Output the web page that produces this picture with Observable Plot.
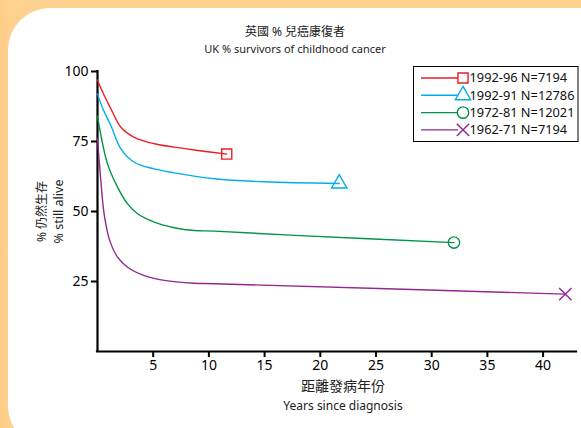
<!DOCTYPE html>
<html>
<head>
<meta charset="utf-8">
<script src="https://cdn.jsdelivr.net/npm/d3@7"></script>
<script src="https://cdn.jsdelivr.net/npm/@observablehq/plot@0.6"></script>
<style>
  html, body { margin: 0; padding: 0; }
  body { width: 581px; height: 428px; overflow: hidden; position: relative;
         background: linear-gradient(to right, #FFCB85 0px, #FFD18E 8px); font-family: "Noto Sans", "Noto Sans CJK TC", sans-serif; }
  #panel { position: absolute; left: 8px; top: 8px; width: 640px; height: 440px; background: #fff; border-radius: 42px; }
  #chart { position: absolute; left: 0; top: 0; }
</style>
</head>
<body>
<div id="panel"></div>
<div id="chart"></div>
<script>
// ---- data ----
const seriesNames = ["1992-96 N=7194", "1992-91 N=12786", "1972-81 N=12021", "1962-71 N=7194"];
const seriesColors = ["#ED1C24", "#00AEEF", "#00934A", "#92278F"];
const seriesSymbols = ["square", "triangle", "circle", "times"];

const years1 = [0, 0.5, 1.2, 2.1, 3.3, 5.1, 6.9, 9, 11.6];
const vals1  = [97, 92.3, 86.7, 80.1, 76.5, 74.2, 73, 71.8, 70.5];

const years2 = [0, 0.5, 1.2, 2.1, 3.3, 5.1, 6.9, 10.5, 15, 21.7];
const vals2  = [92, 86.5, 80.7, 72.4, 67.6, 65.2, 63.8, 61.7, 60.6, 60];

const years3 = [0, 0.9, 1.8, 2.7, 3.6, 5.1, 6.9, 8.7, 10.5, 18.2, 32];
const vals3  = [84, 67, 58.7, 52.7, 49.2, 46.2, 44.2, 43.2, 43, 41.4, 38.9];

const years4 = [0, 0.3, 0.6, 1.1, 1.8, 2.7, 4.2, 6, 8.7, 10.5, 42];
const vals4  = [76, 61, 49, 39.6, 33.7, 30.1, 27.1, 25.4, 24.4, 24.2, 20.5];

const xTicks = [5, 10, 15, 20, 25, 30, 35, 40];
const yTicks = [25, 50, 75, 100];

const titleZh = "英國 % 兒癌康復者";
const titleEn = "UK % survivors of childhood cancer";
const xLabelZh = "距離發病年份";
const xLabelEn = "Years since diagnosis";
const yLabelZh = "% 仍然生存";
const yLabelEn = "% still alive";

// ---- build table ----
const allYears = [years1, years2, years3, years4];
const allVals = [vals1, vals2, vals3, vals4];
const data = [];
const ends = [];
allYears.forEach((ys, i) => {
  ys.forEach((yr, j) => data.push({series: seriesNames[i], year: yr, value: allVals[i][j]}));
  ends.push({series: seriesNames[i], year: ys[ys.length - 1], value: allVals[i][ys.length - 1]});
});

const font = "'Noto Sans', 'Noto Sans CJK TC', sans-serif";

const chart = Plot.plot({
  width: 581,
  height: 428,
  marginLeft: 97,
  marginRight: 5,
  marginTop: 71,
  marginBottom: 77,
  style: {background: "transparent", fontFamily: font, fontSize: "14px", color: "#000"},
  x: {domain: [0, 43]},
  y: {domain: [0, 100]},
  color: {domain: seriesNames, range: seriesColors},
  symbol: {domain: seriesNames, range: seriesSymbols},
  marks: [
    Plot.axisX({ticks: xTicks, tickSize: 6, tickPadding: 3, strokeWidth: 2, label: null, fontSize: 14}),
    Plot.axisY({ticks: yTicks, tickSize: 6, tickPadding: 3, strokeWidth: 2, label: null, fontSize: 14}),
    Plot.ruleX([0], {strokeWidth: 2.2, strokeLinecap: "square"}),
    Plot.ruleY([0], {strokeWidth: 2.2, strokeLinecap: "square"}),
    Plot.line(data, {x: "year", y: "value", z: "series", stroke: "series", strokeWidth: 1.4, curve: "catmull-rom"}),
    Plot.dot(ends, {x: "year", y: "value", stroke: "series", symbol: "series", r: 5.7, strokeWidth: 1.4, fill: "none"}),
    Plot.text([titleZh], {text: d => d, frameAnchor: "top", dx: -42, dy: -44, fontSize: 12, fill: "#222"}),
    Plot.text([titleEn], {text: d => d, frameAnchor: "top", dx: -42, dy: -26, fontSize: 11, fill: "#222"}),
    Plot.text([xLabelZh], {text: d => d, frameAnchor: "bottom", dx: 6, dy: 39, fontSize: 14, fill: "#222"}),
    Plot.text([xLabelEn], {text: d => d, frameAnchor: "bottom", dx: 6, dy: 58, fontSize: 12, fill: "#222"}),
    Plot.text([yLabelZh], {text: d => d, frameAnchor: "left", textAnchor: "middle", dx: -55, dy: 0, rotate: -90, fontSize: 12, fill: "#222"}),
    Plot.text([yLabelEn], {text: d => d, frameAnchor: "left", textAnchor: "middle", dx: -39, dy: 0, rotate: -90, fontSize: 12.5, fill: "#222"})
  ]
});
document.getElementById("chart").appendChild(chart);

// ---- legend ----
const svg = d3.select(chart);
const lg = svg.append("g").attr("font-family", font).attr("font-size", 12.8).attr("text-anchor", "start");
lg.append("rect").attr("x", 413.5).attr("y", 66.5).attr("width", 164.5).attr("height", 75)
  .attr("fill", "#fff").attr("stroke", "#000").attr("stroke-width", 1);
seriesNames.forEach((name, i) => {
  const cy = 78 + i * 17.3;
  const g = lg.append("g");
  g.append("line").attr("x1", 421).attr("x2", 458).attr("y1", cy).attr("y2", cy)
    .attr("stroke", seriesColors[i]).attr("stroke-width", 1.4);
  const sym = {square: d3.symbolSquare, triangle: d3.symbolTriangle, circle: d3.symbolCircle, times: d3.symbolTimes}[seriesSymbols[i]];
  g.append("path").attr("d", d3.symbol(sym, Math.PI * 5.7 * 5.7)())
    .attr("transform", `translate(463,${cy})`)
    .attr("fill", "none").attr("stroke", seriesColors[i]).attr("stroke-width", 1.4);
  g.append("text").attr("x", 469.5).attr("y", cy).attr("dy", "0.35em").attr("text-anchor", "start")
    .attr("fill", "#111").text(name);
});
</script>
</body>
</html>
